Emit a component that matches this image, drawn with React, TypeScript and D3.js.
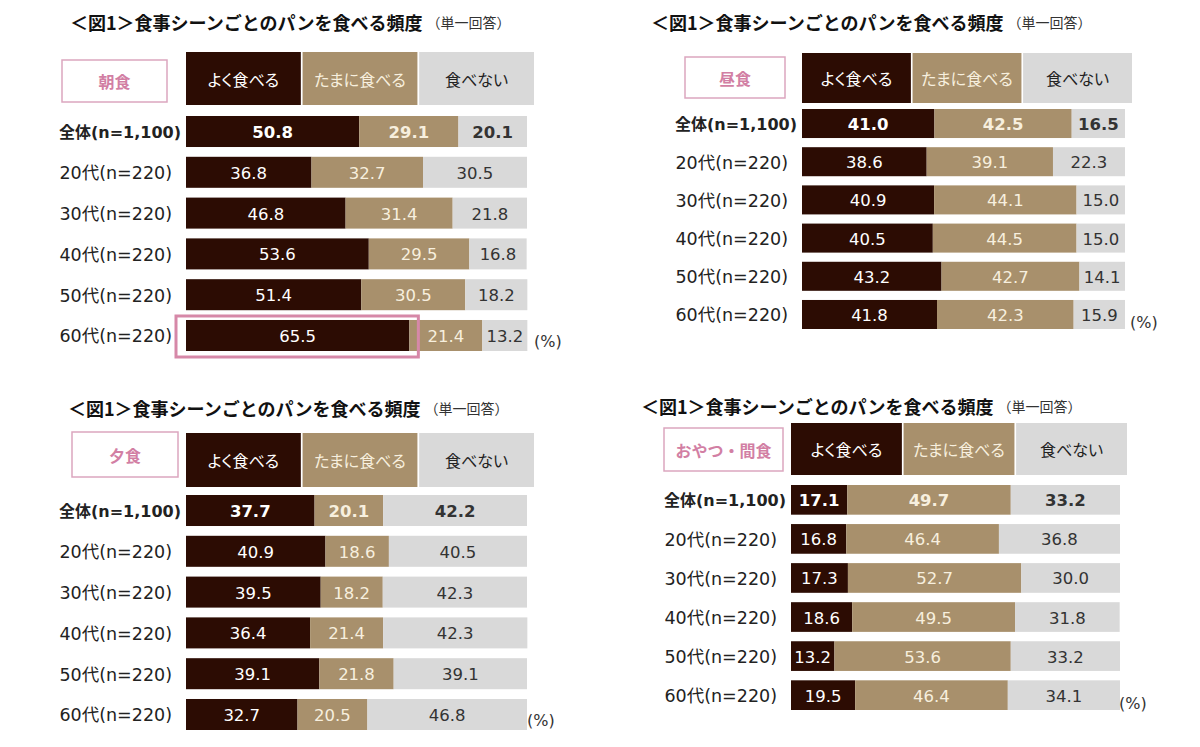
import * as d3 from "d3";

const categories = ["全体(n=1,100)", "20代(n=220)", "30代(n=220)", "40代(n=220)", "50代(n=220)", "60代(n=220)"];
const seriesNames = ["よく食べる", "たまに食べる", "食べない"];
const chartTitle = "＜図1＞食事シーンごとのパンを食べる頻度";
const chartSubtitle = "（単一回答）";

const breakfastOften = [50.8, 36.8, 46.8, 53.6, 51.4, 65.5];
const breakfastSometimes = [29.1, 32.7, 31.4, 29.5, 30.5, 21.4];
const breakfastNever = [20.1, 30.5, 21.8, 16.8, 18.2, 13.2];

const lunchOften = [41.0, 38.6, 40.9, 40.5, 43.2, 41.8];
const lunchSometimes = [42.5, 39.1, 44.1, 44.5, 42.7, 42.3];
const lunchNever = [16.5, 22.3, 15.0, 15.0, 14.1, 15.9];

const dinnerOften = [37.7, 40.9, 39.5, 36.4, 39.1, 32.7];
const dinnerSometimes = [20.1, 18.6, 18.2, 21.4, 21.8, 20.5];
const dinnerNever = [42.2, 40.5, 42.3, 42.3, 39.1, 46.8];

const snackOften = [17.1, 16.8, 17.3, 18.6, 13.2, 19.5];
const snackSometimes = [49.7, 46.4, 52.7, 49.5, 53.6, 46.4];
const snackNever = [33.2, 36.8, 30.0, 31.8, 33.2, 34.1];

const keys = ["often", "sometimes", "never"];
const fills = ["#2c0c03", "#a8906c", "#d9d9d9"];
const textFills = ["#ffffff", "#f7efde", "#333333"];
const headerText = ["#ffffff", "#f7efde", "#222222"];
const pink = "#d27fa4";

const cjk = "'DejaVu Sans', 'Noto Sans CJK JP', sans-serif";
const jp = "'Noto Sans CJK JP', sans-serif";

type Panel = {
  scene: string;
  often: number[];
  sometimes: number[];
  never: number[];
  titleX: number;
  titleY: number;
  box: { x: number; y: number; w: number; h: number };
  header: { y: number; h: number; x1: number };
  x0: number;
  width: number;
  top: number;
  bottom: number;
  pct: [number, number];
  highlight?: string;
};

const panels: Panel[] = [
  {
    scene: "朝食", often: breakfastOften, sometimes: breakfastSometimes, never: breakfastNever,
    titleX: 70, titleY: 22, box: { x: 62, y: 60, w: 105, h: 42 },
    header: { y: 52, h: 53, x1: 534 }, x0: 186, width: 341, top: 116, bottom: 351,
    pct: [534, 341], highlight: "60代(n=220)",
  },
  {
    scene: "昼食", often: lunchOften, sometimes: lunchSometimes, never: lunchNever,
    titleX: 651, titleY: 22, box: { x: 685, y: 57, w: 100, h: 41 },
    header: { y: 53, h: 50, x1: 1132 }, x0: 802, width: 323, top: 109, bottom: 329,
    pct: [1130, 322],
  },
  {
    scene: "夕食", often: dinnerOften, sometimes: dinnerSometimes, never: dinnerNever,
    titleX: 68, titleY: 408, box: { x: 72, y: 432, w: 106, h: 45 },
    header: { y: 433, h: 54, x1: 534 }, x0: 186, width: 341, top: 495, bottom: 730,
    pct: [527, 720],
  },
  {
    scene: "おやつ・間食", often: snackOften, sometimes: snackSometimes, never: snackNever,
    titleX: 641, titleY: 406, box: { x: 664, y: 428, w: 119, h: 43 },
    header: { y: 423, h: 52, x1: 1127 }, x0: 791, width: 329, top: 485, bottom: 710,
    pct: [1119, 703],
  },
];

function PanelChart({ p }: { p: Panel }) {
  const rows = categories.map((c, i) => ({
    category: c,
    often: p.often[i],
    sometimes: p.sometimes[i],
    never: p.never[i],
  }));
  const stacked = d3.stack<any>().keys(keys)(rows);

  const x = d3.scaleLinear().domain([0, 100]).range([p.x0, p.x0 + p.width]);
  const y = d3.scaleBand().domain(categories).range([p.top, p.bottom]).paddingInner(0.24);
  const hx = d3.scaleBand().domain(seriesNames).range([p.x0, p.header.x1]).paddingInner(0.015);

  const hl = p.highlight;

  return (
    <g>
      {/* title */}
      <text x={p.titleX} y={p.titleY} dominantBaseline="central" fontFamily={jp} fill="#111">
        <tspan fontSize={18} fontWeight="bold">{chartTitle}</tspan>
        <tspan fontSize={14} dx={4} fill="#333">{chartSubtitle}</tspan>
      </text>

      {/* scene label */}
      <rect x={p.box.x} y={p.box.y} width={p.box.w} height={p.box.h} fill="#fff" stroke="#dba6bf" strokeWidth={1.5} />
      <text
        x={p.box.x + p.box.w / 2}
        y={p.box.y + p.box.h / 2}
        textAnchor="middle"
        dominantBaseline="central"
        fontFamily={jp}
        fontSize={16}
        fontWeight="bold"
        fill={pink}
      >
        {p.scene}
      </text>

      {/* header legend cells */}
      {seriesNames.map((s, i) => (
        <g key={s}>
          <rect x={hx(s)} y={p.header.y} width={hx.bandwidth()} height={p.header.h} fill={fills[i]} />
          <text
            x={hx(s)! + hx.bandwidth() / 2}
            y={p.header.y + p.header.h / 2}
            textAnchor="middle"
            dominantBaseline="central"
            fontFamily={jp}
            fontSize={16}
            fill={headerText[i]}
            style={{ fontFeatureSettings: '"palt"' }}
          >
            {s}
          </text>
        </g>
      ))}

      {/* bars */}
      {stacked.map((layer, li) =>
        layer.map((d: any) => {
          const cat = d.data.category;
          const bold = cat === categories[0];
          const v = d.data[keys[li]] as number;
          return (
            <g key={`${li}-${cat}`}>
              <rect x={x(d[0])} y={y(cat)} width={x(d[1]) - x(d[0])} height={y.bandwidth()} fill={fills[li]} />
              <text
                x={(x(d[0]) + x(d[1])) / 2}
                y={y(cat)! + y.bandwidth() / 2 + 1}
                textAnchor="middle"
                dominantBaseline="central"
                fontFamily={cjk}
                fontSize={16.5}
                fontWeight={bold ? "bold" : "normal"}
                fill={textFills[li]}
              >
                {v.toFixed(1)}
              </text>
            </g>
          );
        })
      )}

      {/* category labels */}
      {categories.map((c, i) => (
        <text
          key={c}
          x={i === 0 ? p.x0 - 5 : p.x0 - 14}
          y={y(c)! + y.bandwidth() / 2 + 1}
          textAnchor="end"
          dominantBaseline="central"
          fontFamily={cjk}
          fontSize={i === 0 ? 16 : 17.5}
          fontWeight={i === 0 ? "bold" : "normal"}
          fill="#222"
        >
          {c}
        </text>
      ))}

      {hl && (
        <rect
          x={x(0) - 10}
          y={y(hl)! - 4}
          width={x(p.often[categories.indexOf(hl)]) - x(0) + 19}
          height={y.bandwidth() + 10}
          fill="none"
          stroke="#d688a8"
          strokeWidth={3}
        />
      )}

      <text x={p.pct[0]} y={p.pct[1]} dominantBaseline="central" fontFamily={cjk} fontSize={16} fill="#333">
        (%)
      </text>
    </g>
  );
}

export default function App() {
  return (
    <svg
      width={1200}
      height={747}
      style={{ position: "absolute", left: 0, top: 0, background: "#fff" }}
    >
      <rect width={1200} height={747} fill="#fff" />
      {panels.map((p) => (
        <PanelChart key={p.scene} p={p} />
      ))}
    </svg>
  );
}
